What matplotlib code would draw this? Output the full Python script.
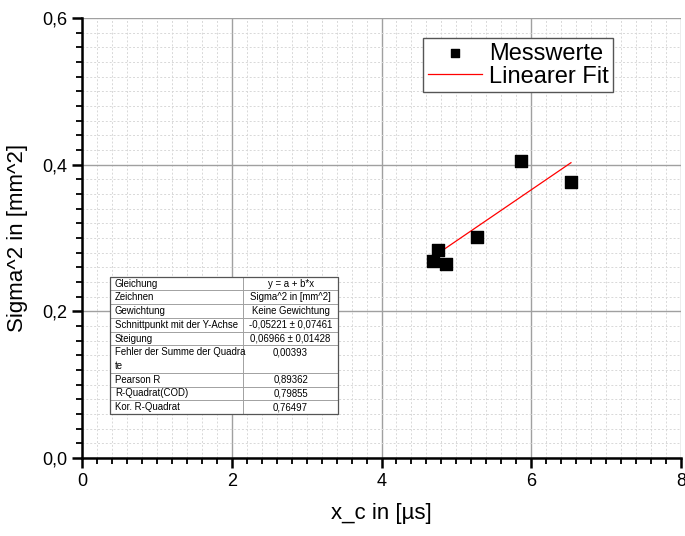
import numpy as np
import matplotlib.pyplot as plt
from matplotlib.patches import Rectangle
from matplotlib.ticker import MultipleLocator, FuncFormatter

plt.rcParams['font.family'] = ['Liberation Sans', 'DejaVu Sans']

# Messwerte
x_c = [4.69, 4.75, 4.86, 5.27, 5.86, 6.53]
sigma2 = [0.269, 0.283, 0.265, 0.301, 0.405, 0.376]

# Fitparameter y = a + b*x
a = -0.05221
b = 0.06966

table_rows = [
    ("Gleichung", "y = a + b*x"),
    ("Zeichnen", "Sigma^2 in [mm^2]"),
    ("Gewichtung", "Keine Gewichtung"),
    ("Schnittpunkt mit der Y-Achse", "-0,05221 \u00b1 0,07461"),
    ("Steigung", "0,06966 \u00b1 0,01428"),
    ("Fehler der Summe der Quadra\nte", "0,00393"),
    ("Pearson R", "0,89362"),
    ("R-Quadrat(COD)", "0,79855"),
    ("Kor. R-Quadrat", "0,76497"),
]

fig = plt.figure(figsize=(6.85, 5.36), dpi=100)
ax = fig.add_axes([0.1197, 0.1455, 0.8745, 0.8209])

ax.set_xlim(0, 8)
ax.set_ylim(0, 0.6)

ax.xaxis.set_major_locator(MultipleLocator(2))
ax.xaxis.set_minor_locator(MultipleLocator(0.2))
ax.yaxis.set_major_locator(MultipleLocator(0.2))
ax.yaxis.set_minor_locator(MultipleLocator(0.02))
ax.yaxis.set_major_formatter(FuncFormatter(lambda v, p: f"{v:.1f}".replace('.', ',')))

ax.grid(which='major', color='#a0a0a0', linewidth=1.0, linestyle='-')
ax.grid(which='minor', color='#d8d8d8', linewidth=0.7, linestyle=(0, (2, 2)))
ax.set_axisbelow(True)

for s in ['top', 'right']:
    ax.spines[s].set_visible(False)
for s in ['left', 'bottom']:
    ax.spines[s].set_linewidth(1.8)

ax.tick_params(which='major', length=7, width=1.8, labelsize=13, direction='out')
ax.tick_params(which='minor', length=4, width=1.3, direction='out')

ax.scatter(x_c, sigma2, marker='s', s=70, color='black', label='Messwerte', zorder=3)
xf = np.linspace(min(x_c), max(x_c), 50)
ax.plot(xf, a + b * xf, color='red', linewidth=0.9, label='Linearer Fit', zorder=2)

ax.set_xlabel('x_c in [\u00b5s]', fontsize=16, labelpad=10)
ax.set_ylabel('Sigma^2 in [mm^2]', fontsize=16, labelpad=10)

leg = ax.legend(loc='upper left', bbox_to_anchor=(0.569, 0.955), fontsize=17,
                fancybox=False, edgecolor='#555555', framealpha=1, markerscale=0.65,
                handlelength=2.3, borderpad=0.2, labelspacing=0.05,
                handletextpad=0.3, borderaxespad=0)
leg.get_frame().set_linewidth(1.0)

# Ergebnistabelle
tx0, tw, ty_top, th = 0.0467, 0.381, 0.412, 0.312
col_split = 0.222
units = [len(r[0].split('\n')) for r in table_rows]
unit_h = th / sum(units)
y = ty_top
for (left, right), u in zip(table_rows, units):
    h = unit_h * u
    y -= h
    for x0, w in [(tx0, col_split), (tx0 + col_split, tw - col_split)]:
        ax.add_patch(Rectangle((x0, y), w, h, transform=ax.transAxes,
                               facecolor='white', edgecolor='#9a9a9a', linewidth=0.6, zorder=4))
    for i, line in enumerate(left.split('\n')):
        ax.text(tx0 + 0.008, y + h - unit_h * (i + 0.5), line, transform=ax.transAxes,
                fontsize=6.9, ha='left', va='center', zorder=5)
    ax.text(tx0 + col_split + (tw - col_split) / 2, y + h - unit_h / 2, right,
            transform=ax.transAxes, fontsize=6.9, ha='center', va='center', zorder=5)
ax.add_patch(Rectangle((tx0, y), tw, ty_top - y, transform=ax.transAxes,
                       facecolor='none', edgecolor='#555555', linewidth=0.9, zorder=6))

fig.savefig('out.png', dpi=100)
